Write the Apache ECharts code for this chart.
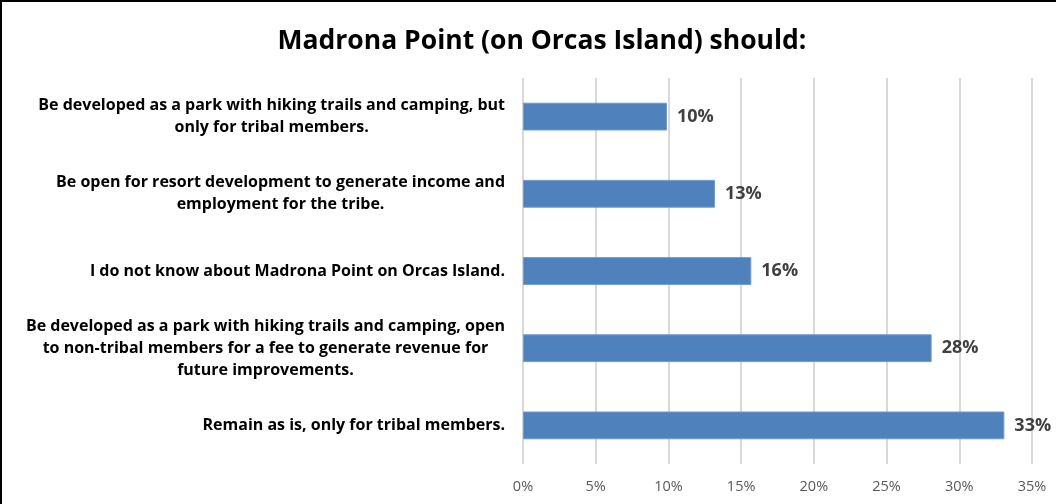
<!DOCTYPE html>
<html><head><meta charset="utf-8">
<script src="https://cdn.jsdelivr.net/npm/echarts@6/dist/echarts.min.js"></script>
<style>
html,body{margin:0;padding:0;background:#fff;}
#frame{position:absolute;left:0;top:0;width:1056px;height:504px;box-sizing:border-box;border-left:2px solid #000;border-top:2px solid #000;}
#c{position:absolute;left:0;top:0;width:1056px;height:504px;}
</style></head>
<body>
<div id="c"></div>
<div id="frame"></div>
<script>
const titleText = 'Madrona Point (on Orcas Island) should:';
const categories = [
  'Be developed as a park with hiking trails and camping, but\nonly for tribal members.',
  'Be open for resort development to generate income and\nemployment for the tribe.',
  'I do not know about Madrona Point on Orcas Island.',
  'Be developed as a park with hiking trails and camping, open\nto non-tribal members for a fee to generate revenue for\nfuture improvements.',
  'Remain as is, only for tribal members.'
];
const values = [9.9, 13.2, 15.7, 28.1, 33.1];
const axisMin = 0, axisMax = 35, axisStep = 5;

const chart = echarts.init(document.getElementById('c'), null, {renderer:'canvas'});
const font = '"Open Sans", Lato, sans-serif';
chart.setOption({
  animation:false,
  backgroundColor:'#fff',
  title:{text:titleText,left:537,textAlign:'center',top:23,
    textStyle:{fontFamily:font,fontWeight:'bold',fontSize:26.5,color:'#000'}},
  grid:{left:523,right:24,top:78,bottom:40,containLabel:false},
  xAxis:{type:'value',min:axisMin,max:axisMax,interval:axisStep,
    axisLine:{show:false},axisTick:{show:false},
    splitLine:{lineStyle:{color:'#d9d9d9',width:2}},
    axisLabel:{formatter:v=>v+'%',color:'#595959',fontFamily:font,fontSize:14.5,margin:15}},
  yAxis:{type:'category',data:categories,inverse:true,
    axisLine:{show:false},axisTick:{show:false},
    axisLabel:{margin:18,color:'#000',fontFamily:font,fontWeight:'bold',fontSize:16,lineHeight:22,
      formatter:v=>v.split('\n').map(l=>'{c|'+l+'}').join('\n'),
      rich:{c:{align:'center',fontFamily:font,fontWeight:'bold',fontSize:16,lineHeight:22,color:'#000'}}}},
  series:[{type:'bar',data:values,barWidth:'36%',
    itemStyle:{color:'#4F81BD',borderColor:'#6f9ad0',borderWidth:1},
    label:{show:true,position:'right',distance:10,formatter:p=>Math.round(p.value)+'%',
      color:'#404040',fontFamily:font,fontWeight:'bold',fontSize:18}}]
});
</script>
</body></html>
